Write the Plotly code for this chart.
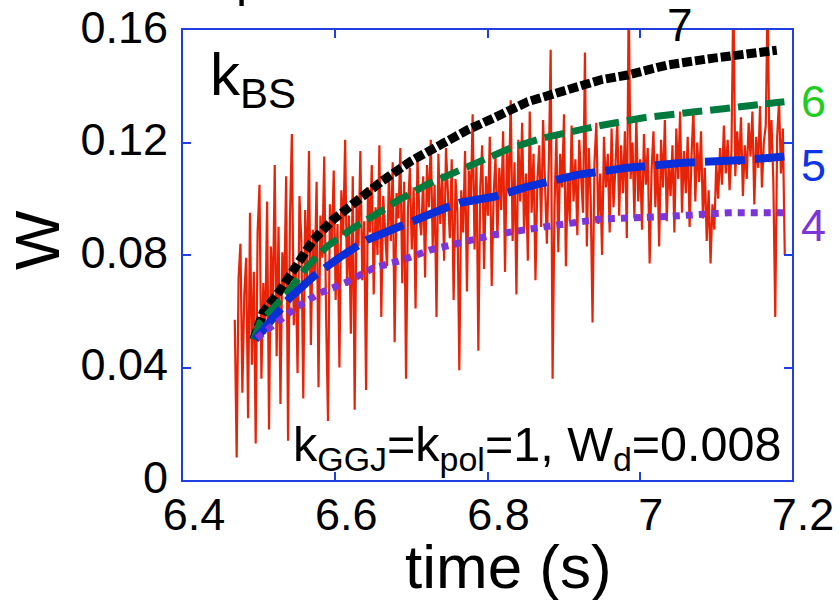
import plotly.graph_objects as go

# ---------------- data ----------------
x_ticks = [6.4, 6.6, 6.8, 7.0, 7.2]
x_ticktext = ["6.4", "6.6", "6.8", "7", "7.2"]
y_ticks = [0, 0.04, 0.08, 0.12, 0.16]
y_ticktext = ["0", "0.04", "0.08", "0.12", "0.16"]

# measured W (red, noisy), sampled every 2.5 ms starting at 6.468 s
meas_t0 = 6.468
meas_dt = 0.0025
meas_w = [
    0.057, 0.008, 0.072, 0.084, 0.031, 0.066, 0.079, 0.022, 0.095, 0.041, 0.074, 0.013, 0.088, 0.105, 0.036, 0.070, 0.052, 0.099, 0.018, 0.083,
    0.061, 0.112, 0.044, 0.090, 0.027, 0.081, 0.067, 0.108, 0.014, 0.093, 0.123, 0.055, 0.076, 0.038, 0.101, 0.085, 0.029, 0.096, 0.070, 0.117,
    0.048, 0.089, 0.072, 0.106, 0.033, 0.094, 0.079, 0.115, 0.058, 0.021, 0.098, 0.083, 0.110, 0.064, 0.091, 0.040, 0.103, 0.087, 0.121, 0.069,
    0.094, 0.052, 0.108, 0.025, 0.099, 0.083, 0.117, 0.071, 0.092, 0.032, 0.104, 0.088, 0.112, 0.066, 0.097, 0.080, 0.119, 0.058, 0.101, 0.090,
    0.076, 0.109, 0.085, 0.113, 0.049, 0.102, 0.093, 0.118, 0.070, 0.106, 0.036, 0.096, 0.111, 0.082, 0.104, 0.061, 0.115, 0.094, 0.087, 0.108,
    0.072, 0.112, 0.097, 0.121, 0.083, 0.105, 0.058, 0.116, 0.091, 0.109, 0.078, 0.118, 0.100, 0.086, 0.114, 0.064, 0.107, 0.095, 0.039, 0.103,
    0.088, 0.117, 0.067, 0.110, 0.098, 0.130, 0.082, 0.113, 0.046, 0.104, 0.119, 0.075, 0.108, 0.094, 0.122, 0.069, 0.101, 0.115, 0.086, 0.111,
    0.096, 0.124, 0.074, 0.118, 0.102, 0.135, 0.085, 0.113, 0.066, 0.121, 0.099, 0.127, 0.088, 0.109, 0.078, 0.131, 0.095, 0.116, 0.071, 0.106,
    0.119, 0.090, 0.128, 0.102, 0.084, 0.112, 0.153, 0.036, 0.097, 0.123, 0.081, 0.116, 0.104, 0.130, 0.076, 0.109, 0.092, 0.126, 0.099, 0.114,
    0.087, 0.121, 0.106, 0.095, 0.152, 0.083, 0.118, 0.101, 0.056, 0.113, 0.127, 0.091, 0.109, 0.080, 0.122, 0.104, 0.116, 0.088, 0.125, 0.097,
    0.111, 0.128, 0.094, 0.119, 0.102, 0.124, 0.086, 0.172, 0.107, 0.120, 0.093, 0.129, 0.099, 0.114, 0.089, 0.123, 0.105, 0.118, 0.077, 0.110,
    0.124, 0.097, 0.116, 0.083, 0.121, 0.104, 0.128, 0.092, 0.113, 0.101, 0.119, 0.088, 0.125, 0.107, 0.131, 0.095, 0.117, 0.102, 0.122, 0.090,
    0.115, 0.132, 0.099, 0.120, 0.106, 0.124, 0.093, 0.111, 0.085, 0.103, 0.077, 0.098, 0.089, 0.113, 0.100, 0.118, 0.105, 0.126, 0.109, 0.121,
    0.103, 0.117, 0.175, 0.108, 0.124, 0.112, 0.129, 0.101, 0.119, 0.107, 0.127, 0.115, 0.131, 0.098, 0.122, 0.111, 0.133, 0.104, 0.120, 0.126,
    0.172, 0.113, 0.128, 0.106, 0.058, 0.122, 0.135, 0.109, 0.125, 0.080,
]
meas_t = [round(meas_t0 + i * meas_dt, 4) for i in range(len(meas_w))]

# model curves for k_BS = 7, 6, 5, 4
k7_t = [6.493, 6.505, 6.528, 6.550, 6.571, 6.597, 6.624, 6.660, 6.700, 6.740, 6.774, 6.808, 6.853, 6.896, 6.949, 6.984, 7.037, 7.097, 7.140, 7.180]
k7_w = [0.050, 0.0594, 0.0676, 0.077, 0.0853, 0.0925, 0.0985, 0.106, 0.1135, 0.1195, 0.1245, 0.1287, 0.1345, 0.138, 0.1423, 0.144, 0.1476, 0.150, 0.1512, 0.1528]

k6_t = [6.493, 6.501, 6.537, 6.563, 6.589, 6.620, 6.659, 6.680, 6.720, 6.764, 6.800, 6.830, 6.874, 6.940, 7.005, 7.071, 7.137, 7.190]
k6_w = [0.050, 0.056, 0.0665, 0.0758, 0.083, 0.089, 0.0954, 0.099, 0.105, 0.110, 0.1145, 0.118, 0.1217, 0.1256, 0.1288, 0.131, 0.1333, 0.1345]

k5_t = [6.495, 6.514, 6.541, 6.571, 6.607, 6.642, 6.695, 6.747, 6.764, 6.808, 6.853, 6.918, 6.984, 7.058, 7.137, 7.190]
k5_w = [0.050, 0.056, 0.065, 0.0723, 0.0794, 0.0854, 0.0915, 0.097, 0.0986, 0.1007, 0.1043, 0.1085, 0.111, 0.1128, 0.1138, 0.115]

k4_t = [6.497, 6.514, 6.532, 6.550, 6.580, 6.616, 6.650, 6.686, 6.725, 6.760, 6.808, 6.874, 6.949, 7.028, 7.116, 7.190]
k4_w = [0.0505, 0.054, 0.058, 0.0616, 0.0665, 0.0705, 0.0754, 0.078, 0.0818, 0.0843, 0.0872, 0.090, 0.0928, 0.0936, 0.095, 0.095]

# ---------------- style ----------------
FONT = "Liberation Sans, Arial, Helvetica, sans-serif"
AXIS_BLUE = "#1f3fe0"
W_PX, H_PX = 840, 600
ML, MR, MT, MB = 183, 48, 30, 120
PW, PH = W_PX - ML - MR, H_PX - MT - MB


def px(xp):
    return (xp - ML) / PW


def py(yp):
    return (H_PX - MB - yp) / PH


fig = go.Figure()
fig.add_trace(go.Scatter(x=meas_t, y=meas_w, mode="lines",
                         line=dict(color="#e82408", width=2.2), hoverinfo="skip"))
fig.add_trace(go.Scatter(x=k7_t, y=k7_w, mode="lines",
                         line=dict(color="#000000", width=9, dash="10px,3px")))
fig.add_trace(go.Scatter(x=k6_t, y=k6_w, mode="lines",
                         line=dict(color="#007a3d", width=7, dash="20px,8px")))
fig.add_trace(go.Scatter(x=k5_t, y=k5_w, mode="lines",
                         line=dict(color="#0a2ed8", width=8, dash="40px,10px")))
fig.add_trace(go.Scatter(x=k4_t, y=k4_w, mode="lines",
                         line=dict(color="#7b35d8", width=7, dash="7px,6px")))

axis_common = dict(
    showgrid=False, zeroline=False, showline=True, linecolor=AXIS_BLUE, linewidth=2,
    mirror="ticks", ticks="inside", ticklen=8, tickwidth=2, tickcolor=AXIS_BLUE,
    tickfont=dict(family=FONT, size=45, color="black"), automargin=False,
)

fig.update_layout(
    width=W_PX, height=H_PX,
    margin=dict(l=ML, r=MR, t=MT, b=MB, pad=0),
    paper_bgcolor="white", plot_bgcolor="white",
    showlegend=False,
    font=dict(family=FONT, color="black"),
    xaxis=dict(range=[6.4, 7.2], tickvals=x_ticks, ticktext=x_ticktext,
               ticklabelstandoff=-6, ticklabelshift=11, **axis_common),
    yaxis=dict(range=[0, 0.16], tickvals=y_ticks, ticktext=y_ticktext,
               ticklabelstandoff=4, ticklabelshift=-3, **axis_common),
)

annots = [
    # axis titles
    dict(text="time (s)", x=px(508), y=py(566), xanchor="center", yanchor="middle",
         font=dict(size=62, color="black")),
    dict(text="W", x=px(37), y=py(240), xanchor="center", yanchor="middle",
         textangle=-90, font=dict(size=63, color="black")),
    # in-plot labels
    dict(text="k<sub>BS</sub>", x=px(208), y=py(79), xanchor="left", yanchor="middle",
         font=dict(size=60, color="black")),
    dict(text="k<sub>GGJ</sub>=k<sub>pol</sub>=1, W<sub>d</sub>=0.008", x=px(784), y=py(447),
         xanchor="right", yanchor="middle", font=dict(size=48.5, color="black")),
    dict(text="7", x=px(680), y=py(25), xanchor="center", yanchor="middle",
         font=dict(size=46, color="black")),
    dict(text="6", x=px(799), y=py(101), xanchor="left", yanchor="middle",
         font=dict(size=45, color="#1fcc1f")),
    dict(text="5", x=px(799), y=py(166), xanchor="left", yanchor="middle",
         font=dict(size=45, color="#1034e8")),
    dict(text="4", x=px(799), y=py(225), xanchor="left", yanchor="middle",
         font=dict(size=45, color="#7b35d8")),
    # fragment of a cut-off heading above the panel
    dict(text="p", x=px(250), y=py(-21), xanchor="center", yanchor="middle",
         font=dict(size=50, color="black")),
]
for a in annots:
    a.update(xref="paper", yref="paper", showarrow=False)
    a["font"]["family"] = FONT
fig.update_layout(annotations=annots)

fig.write_html("out.html")
